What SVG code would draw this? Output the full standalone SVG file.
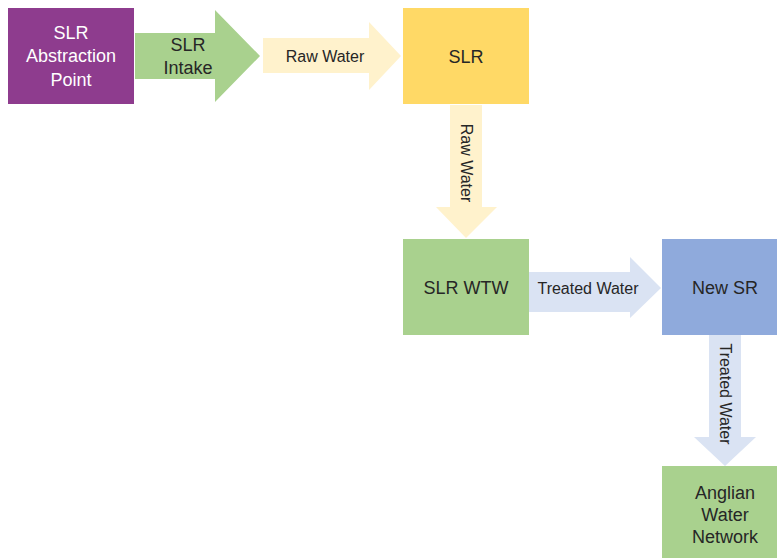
<svg xmlns="http://www.w3.org/2000/svg" width="777" height="558" viewBox="0 0 777 558">
<style>
text{font-family:"Liberation Sans",Arial,sans-serif;fill:#262626;text-anchor:middle;dominant-baseline:central}
.n{font-size:18px}
.l{font-size:16px}
.w{fill:#ffffff}
</style>
<rect width="777" height="558" fill="#ffffff"/>
<g id="connectors">
<g id="c-intake">
<polygon points="135,33 215,33 215,10 260,56 215,102 215,79 135,79" fill="#a9d18e"/>
<text class="n" x="188" y="45">SLR</text>
<text class="n" x="188" y="68">Intake</text>
</g>
<g id="c-raw1">
<polygon points="263,38 369,38 369,22 401,56 369,90 369,73 263,73" fill="#fff2cc"/>
<text class="l" x="325" y="56">Raw Water</text>
</g>
<g id="c-raw2">
<polygon points="450,105 482,105 482,207 497,207 466,238 436,207 450,207" fill="#fff2cc"/>
<text class="l" x="466" y="163" transform="rotate(90 466 163)">Raw Water</text>
</g>
<g id="c-treated1">
<polygon points="529,272 630,272 630,257 661,288 630,318 630,312 529,312" fill="#dae3f3"/>
<text class="l" x="588" y="288">Treated Water</text>
</g>
<g id="c-treated2">
<polygon points="709,335 741,335 741,437 756,437 725,466 694,437 709,437" fill="#dae3f3"/>
<text class="l" x="725" y="394" transform="rotate(90 725 394)">Treated Water</text>
</g>
</g>
<g id="abstraction">
<rect x="8" y="8" width="126" height="96" fill="#8e3c8e"/>
<text class="n w" x="71" y="33">SLR</text>
<text class="n w" x="71" y="56">Abstraction</text>
<text class="n w" x="71" y="80">Point</text>
</g>
<g id="slr">
<rect x="403" y="8" width="126" height="96" fill="#ffd966"/>
<text class="n" x="466" y="57">SLR</text>
</g>
<g id="wtw">
<rect x="403" y="239" width="126" height="96" fill="#a9d18e"/>
<text class="n" x="466" y="288">SLR WTW</text>
</g>
<g id="newsr">
<rect x="662" y="239" width="126" height="96" fill="#8faadc"/>
<text class="n" x="725" y="288">New SR</text>
</g>
<g id="anglian">
<rect x="662" y="466" width="126" height="96" fill="#a9d18e"/>
<text class="n" x="725" y="493">Anglian</text>
<text class="n" x="725" y="515">Water</text>
<text class="n" x="725" y="537">Network</text>
</g>
</svg>
